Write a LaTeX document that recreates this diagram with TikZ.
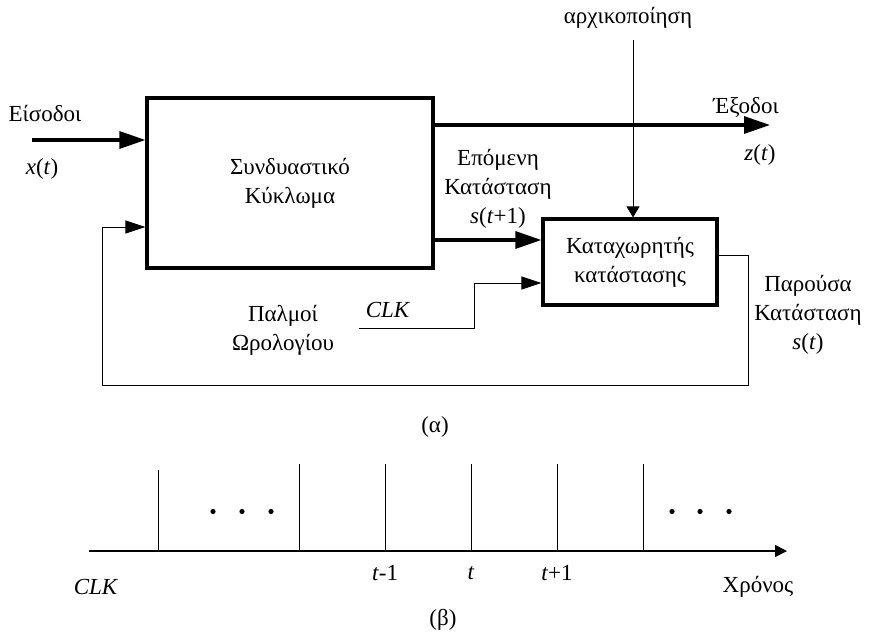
\documentclass[tikz,border=0pt]{standalone}
\usepackage{fontspec}
\setmainfont{Liberation Serif}
\usetikzlibrary{arrows.meta}

\begin{document}
\begin{tikzpicture}[x=1pt, y=-1pt,
  font=\fontsize{23}{29}\selectfont,
  bigbox/.style={draw, line width=3.2pt, align=center, inner sep=0pt},
  txt/.style={align=center, inner sep=0pt},
  heavy/.style={line width=3.2pt, -{Triangle[length=26pt,width=17pt]}},
  light/.style={line width=1pt, -{Triangle[length=20pt,width=13pt]}},
  initarrow/.style={line width=1pt, -{Triangle[length=11pt,width=13pt]}},
  axisarrow/.style={line width=1.6pt, -{Triangle[length=12pt,width=12pt]}},
  tick/.style={line width=1pt}]
\useasboundingbox (0,0) rectangle (874,633);

% (a) block diagram
\node[bigbox, minimum width=286pt, minimum height=170pt] (comb) at (290,183) {Συνδυαστικό\\Κύκλωμα};
\node[bigbox, minimum width=174pt, minimum height=86pt] (reg) at (630,262) {Καταχωρητής\\κατάστασης};

\coordinate (xin) at (32,140);
\coordinate (zout) at (770,125);
\coordinate (init) at (633,40);
\coordinate (clk) at (359,328);
\coordinate (fb) at (102,385);

\draw[heavy] (xin) -- (xin -| comb.west);
\draw[heavy] ([yshift=58pt]comb.east) -- (zout);
\draw[heavy] ([yshift=-57pt]comb.east) -- ([yshift=-57pt]comb.east -| reg.west);
\draw[initarrow] (init) -- (init |- reg.north);
\draw[light] (clk) -- ++(115,0) |- ([yshift=-21pt]reg.west);
\draw[light] ([yshift=7pt]reg.east) -| ([xshift=30pt]reg.east |- fb) -- (fb) |- ([yshift=-44pt]comb.west);

\node[txt] (inlbl) at (45,113) {Είσοδοι};
\node[txt] (xlbl) at (42,169) {\textit{x}(\textit{t})};
\node[txt] (outlbl) at (746,107) {Έξοδοι};
\node[txt] (zlbl) at (760,155) {\textit{z}(\textit{t})};
\node[txt] (initlbl) at (628,18) {αρχικοποίηση};
\node[txt] (nslbl) at (498,189) {Επόμενη\\Κατάσταση\\\textit{s}(\textit{t}+1)};
\node[txt] (pslbl) at (808,315) {Παρούσα\\Κατάσταση\\\textit{s}(\textit{t})};
\node[txt] (clklbl) at (283,330) {Παλμοί\\Ωρολογίου};
\node[txt] (clkname) at (388,310) {\textit{CLK}};
\node[txt] (alpha) at (435,427) {(α)};

% (b) clock pulses
\coordinate (axl) at (89,551);
\coordinate (axr) at (787,551);
\draw[axisarrow] (axl) -- (axr);
\draw[tick] (158,551) -- (158,470);
\foreach \x in {299,385,471,557,643}
  \draw[tick] (\x,551) -- (\x,464);
\foreach \x in {213,242,271,672,700,729}
  \fill (\x,511.5) circle (2.6pt);

\node[txt] (tm) at (385,573) {\textit{t}-1};
\node[txt] (t0) at (471,573) {\textit{t}};
\node[txt] (tp) at (557,573) {\textit{t}+1};
\node[txt] (clkb) at (96,587) {\textit{CLK}};
\node[txt] (time) at (758,587) {Χρόνος};
\node[txt] (beta) at (443,620) {(β)};
\end{tikzpicture}
\end{document}
